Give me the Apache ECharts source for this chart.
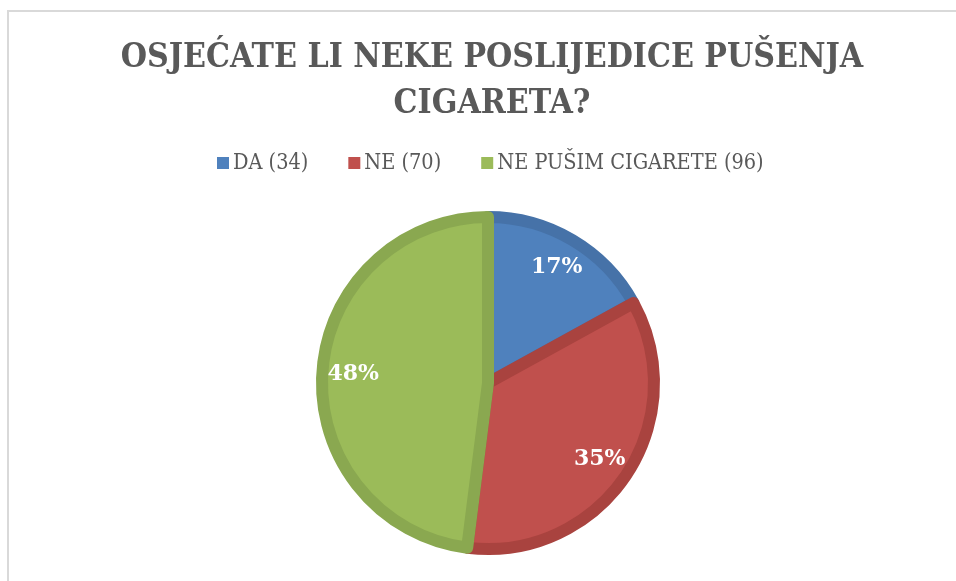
<!DOCTYPE html>
<html><head><meta charset="utf-8">
<script src="https://cdn.jsdelivr.net/npm/echarts@6/dist/echarts.min.js"></script>
<style>
html,body{margin:0;padding:0;background:#fff;}
#c{position:absolute;left:0;top:0;width:956px;height:581px;}
#frame{position:absolute;left:7px;top:10px;width:960px;height:600px;border-left:2px solid #d9d9d9;border-top:2px solid #d9d9d9;}
</style></head>
<body>
<div id="frame"></div>
<div id="c"></div>
<script>
const titleText = 'OSJEĆATE LI NEKE POSLIJEDICE PUŠENJA\nCIGARETA?';
const categories = ['DA (34)', 'NE (70)', 'NE PUŠIM CIGARETE (96)'];
const values = [34, 70, 96];
const colors = ['#4F81BD', '#C0504D', '#9BBB59'];
const borderColors = ['#4672A8', '#A9433F', '#8AA850'];

const chart = echarts.init(document.getElementById('c'));
const data = categories.map((n, i) => ({
  name: n, value: values[i],
  itemStyle: { color: colors[i], borderColor: borderColors[i] }
}));
chart.setOption({
  animation: false,
  title: {
    text: titleText, left: 487, top: 30,
    textAlign: 'center',
    textStyle: { fontFamily: 'DejaVu Serif Condensed', fontWeight: 'bold', fontSize: 33.5, lineHeight: 46, color: '#595959' }
  },
  legend: {
    data: categories, top: 147, left: 212, itemWidth: 12, itemHeight: 12, itemGap: 40,
    icon: 'rect',
    itemStyle: { borderWidth: 0 },
    textStyle: { fontFamily: 'DejaVu Serif Condensed', fontSize: 21.5, color: '#595959', padding: [0, 0, 0, -1] }
  },
  color: colors,
  series: [{
    type: 'pie', radius: [0, 166], center: [488, 383], startAngle: 90, clockwise: true,
    data: data, label: { show: false }, labelLine: { show: false },
    itemStyle: { borderWidth: 12 }, silent: true
  }, {
    type: 'pie', radius: [96, 168], center: [488, 383], startAngle: 90, clockwise: true,
    data: categories.map((n, i) => ({ name: n, value: values[i] })),
    itemStyle: { color: 'rgba(0,0,0,0)' }, silent: true,
    label: { show: true, position: 'inside', formatter: '{d}%', color: '#fff',
      fontFamily: 'DejaVu Serif', fontWeight: 'bold', fontSize: 22 },
    labelLine: { show: false }
  }]
});
</script>
</body></html>
